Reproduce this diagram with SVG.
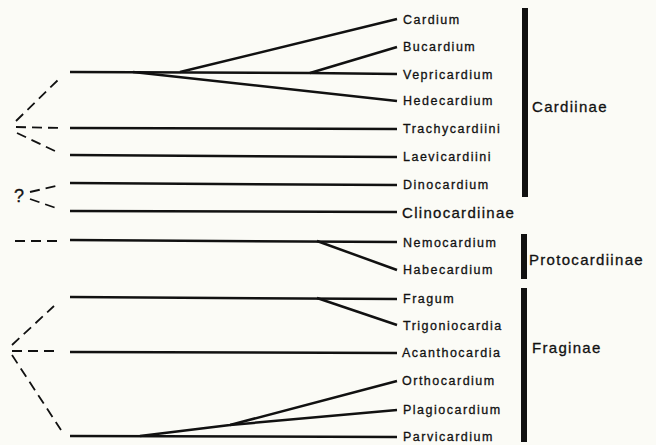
<svg xmlns="http://www.w3.org/2000/svg" width="656" height="445" viewBox="0 0 656 445">
<style>
.bg{fill:#fbfbf6}
.ln{stroke:#111;stroke-width:2.5;fill:none;stroke-linecap:butt}
.dash{stroke:#111;stroke-width:1.8;fill:none;stroke-dasharray:10 6}
.t{font-family:"Liberation Sans",Arial,sans-serif;font-size:12.5px;letter-spacing:1.5px;fill:#111;stroke:#111;stroke-width:0.3;dominant-baseline:central}
.T{font-family:"Liberation Sans",Arial,sans-serif;font-size:15px;letter-spacing:1.3px;fill:#111;stroke:#111;stroke-width:0.3;dominant-baseline:central}
.bar{fill:#111}
</style>
<rect class="bg" x="0" y="0" width="656" height="445"/>
<g id="connectors">
  <path class="ln" d="M70,72 L310,73 L397,74"/>
  <path class="ln" d="M180,72 L397,19"/>
  <path class="ln" d="M310,73 L397,47"/>
  <path class="ln" d="M133,72 L397,101"/>
  <path class="ln" d="M70,128 L397,129"/>
  <path class="ln" d="M70,155 L397,157"/>
  <path class="ln" d="M70,183 L397,185"/>
  <path class="ln" d="M70,211 L397,212"/>
  <path class="ln" d="M70,240 L397,242"/>
  <path class="ln" d="M317,241 L397,270"/>
  <path class="ln" d="M70,297 L397,299"/>
  <path class="ln" d="M317,298 L397,325"/>
  <path class="ln" d="M70,352 L397,353"/>
  <path class="ln" d="M70,436 L397,437"/>
  <path class="ln" d="M140,436 L230,425 L397,381"/>
  <path class="ln" d="M230,425 L397,410"/>
  <path class="dash" d="M16,121 L58,80"/>
  <path class="dash" d="M16,127 L60,128"/>
  <path class="dash" d="M17,133 L57,152"/>
  <path class="dash" d="M30,192 L56,186"/>
  <path class="dash" d="M30,199 L56,208"/>
  <path class="dash" d="M15,241 L58,241"/>
  <path class="dash" d="M12,345 L54,306"/>
  <path class="dash" d="M12,351 L56,351"/>
  <path class="dash" d="M12,355 L61,430"/>
</g>
<g id="q"><text class="T" x="14" y="196" style="font-size:18px">?</text></g>
<g id="cardium"><text class="t" x="403" y="20">Cardium</text></g>
<g id="bucardium"><text class="t" x="403" y="47">Bucardium</text></g>
<g id="vepricardium"><text class="t" x="403" y="75">Vepricardium</text></g>
<g id="hedecardium"><text class="t" x="403" y="101">Hedecardium</text></g>
<g id="trachycardiini"><text class="t" x="403" y="129">Trachycardiini</text></g>
<g id="laevicardiini"><text class="t" x="403" y="157">Laevicardiini</text></g>
<g id="dinocardium"><text class="t" x="403" y="185">Dinocardium</text></g>
<g id="clinocardiinae"><text class="T" x="402" y="212">Clinocardiinae</text></g>
<g id="nemocardium"><text class="t" x="403" y="243">Nemocardium</text></g>
<g id="habecardium"><text class="t" x="403" y="270">Habecardium</text></g>
<g id="fragum"><text class="t" x="403" y="299">Fragum</text></g>
<g id="trigoniocardia"><text class="t" x="403" y="326">Trigoniocardia</text></g>
<g id="acanthocardia"><text class="t" x="402" y="353">Acanthocardia</text></g>
<g id="orthocardium"><text class="t" x="402" y="381">Orthocardium</text></g>
<g id="plagiocardium"><text class="t" x="403" y="410">Plagiocardium</text></g>
<g id="parvicardium"><text class="t" x="403" y="437">Parvicardium</text></g>
<g id="cardiinae"><rect class="bar" x="522" y="8" width="6" height="189"/><text class="T" x="532" y="106">Cardiinae</text></g>
<g id="protocardiinae"><rect class="bar" x="521" y="234" width="6" height="45"/><text class="T" x="529" y="259">Protocardiinae</text></g>
<g id="fraginae"><rect class="bar" x="521" y="288" width="6" height="154"/><text class="T" x="532" y="347">Fraginae</text></g>
</svg>
